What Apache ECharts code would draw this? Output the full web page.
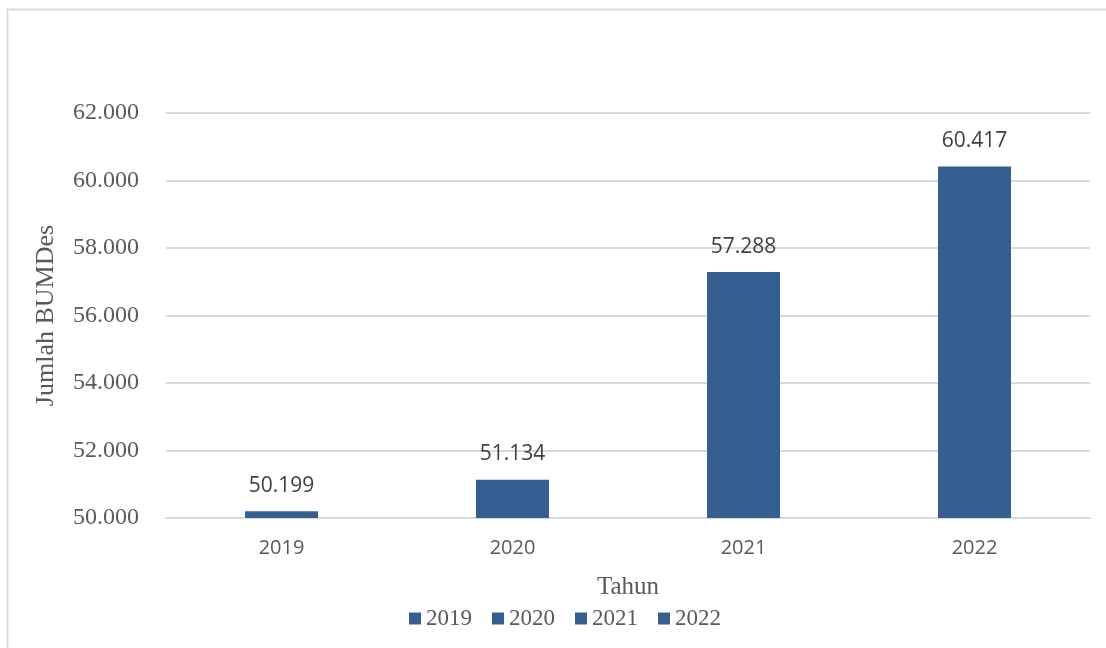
<!DOCTYPE html>
<html>
<head>
<meta charset="utf-8">
<script src="https://cdn.jsdelivr.net/npm/echarts@6/dist/echarts.min.js"></script>
<style>
  html, body { margin: 0; padding: 0; background: #fff; }
  #chart { width: 1106px; height: 648px; }
</style>
</head>
<body>
<div id="chart"></div>
<script>
// data
var tahun = ['2019', '2020', '2021', '2022'];
var jumlah = [50199, 51134, 57288, 60417];
var yTicks = [50000, 52000, 54000, 56000, 58000, 60000, 62000];

function fmt(v) {
    return String(v).replace(/\B(?=(\d{3})+(?!\d))/g, '.');
}

var chart = echarts.init(document.getElementById('chart'));

// one series per year so the legend shows every year
var series = tahun.map(function (t, i) {
    return {
        name: t,
        type: 'bar',
        stack: 'total',
        barWidth: '31.6%',
        itemStyle: { color: '#365f91' },
        label: {
            show: true,
            position: 'top',
            distance: 15,
            fontFamily: 'Open Sans',
            fontSize: 21,
            color: '#404040',
            formatter: function (p) { return fmt(p.value); }
        },
        data: tahun.map(function (x, j) { return j === i ? jumlah[i] : null; })
    };
});

var option = {
    animation: false,
    graphic: [{
        type: 'rect',
        shape: { x: 7.5, y: 9.5, width: 1110, height: 660 },
        style: { fill: 'none', stroke: '#d9d9d9', lineWidth: 2 }
    }],
    grid: { left: 166, right: 16, top: 113, bottom: 130 },
    legend: {
        bottom: 13,
        left: 404,
        itemWidth: 12,
        itemHeight: 12,
        itemGap: 20,
        icon: 'rect',
        textStyle: { fontFamily: 'Liberation Serif', fontSize: 23, color: '#595959' },
        data: tahun
    },
    xAxis: {
        type: 'category',
        data: tahun,
        name: 'Tahun',
        nameLocation: 'middle',
        nameGap: 57,
        nameTextStyle: { fontFamily: 'Liberation Serif', fontSize: 25, color: '#595959' },
        axisLine: { lineStyle: { color: '#d9d9d9', width: 2 } },
        axisTick: { show: false },
        axisLabel: { fontFamily: 'Open Sans', fontSize: 20, color: '#595959', margin: 20 }
    },
    yAxis: {
        type: 'value',
        min: yTicks[0],
        max: yTicks[yTicks.length - 1],
        interval: 2000,
        name: 'Jumlah BUMDes',
        nameLocation: 'middle',
        nameGap: 107,
        nameTextStyle: { fontFamily: 'Liberation Serif', fontSize: 26, color: '#595959' },
        axisLine: { show: false },
        axisTick: { show: false },
        splitLine: { lineStyle: { color: '#d9d9d9', width: 2 } },
        axisLabel: {
            fontFamily: 'Liberation Serif',
            fontSize: 24,
            color: '#595959',
            margin: 27,
            formatter: function (v) { return fmt(v); }
        }
    },
    series: series
};

chart.setOption(option);
</script>
</body>
</html>
